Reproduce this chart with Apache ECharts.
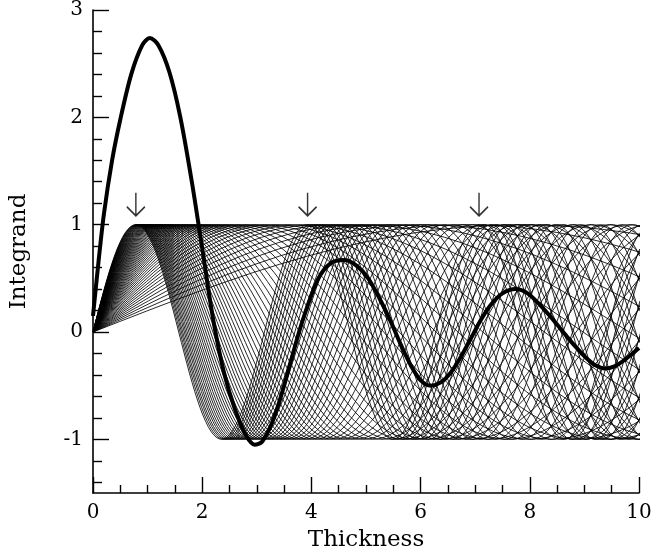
<!DOCTYPE html>
<html>
<head>
<meta charset="utf-8">
<script src="https://cdn.jsdelivr.net/npm/echarts@6/dist/echarts.min.js"></script>
<style>html,body{margin:0;padding:0;background:#fff;}#chart{width:665px;height:557px;}</style>
</head>
<body>
<div id="chart"></div>
<script>
// Peak positions (x at which each thin curve first reaches +1), read/estimated from the figure
const thinPeaks = [0.785, 0.797, 0.810, 0.822, 0.836, 0.849, 0.863, 0.878, 0.893, 0.908,
  0.924, 0.941, 0.958, 0.976, 0.994, 1.013, 1.033, 1.054, 1.076, 1.098,
  1.122, 1.147, 1.172, 1.199, 1.227, 1.257, 1.288, 1.320, 1.354, 1.390,
  1.428, 1.468, 1.510, 1.555, 1.603, 1.653, 1.707, 1.765, 1.827, 1.893,
  1.963, 2.040, 2.123, 2.212, 2.310, 2.417, 2.534, 2.662, 2.805, 2.964,
  3.142, 3.342, 3.570, 3.831, 4.134, 4.488, 4.909, 5.417, 6.042, 6.830, 7.854];
// Quarter-period waveform shape of the thin curves (rise from 0 to peak), 16 steps
const quarterWave = [0, 0.098, 0.195, 0.290, 0.383, 0.471, 0.556, 0.634, 0.707, 0.773,
  0.831, 0.882, 0.924, 0.957, 0.981, 0.995, 1];
// Thick curve
const thickX = [0, 0.1, 0.2, 0.35, 0.5, 0.7, 0.9, 1.04, 1.2, 1.4, 1.6, 1.81, 2.0, 2.2, 2.4, 2.6, 2.8, 2.96,
  3.1, 3.3, 3.5, 3.81, 4.12, 4.35, 4.6, 4.82, 5.04, 5.25, 5.46, 5.64, 5.82, 6.0, 6.19, 6.37, 6.55, 6.75, 6.92, 7.1, 7.28, 7.5,
  7.74, 7.96, 8.19, 8.45, 8.69, 8.88, 9.05, 9.2, 9.38, 9.55, 9.71, 9.86, 10];
const thickY = [0.15, 0.65, 1.1, 1.6, 1.98, 2.4, 2.67, 2.74, 2.67, 2.42, 2.0, 1.40, 0.78, 0.12, -0.38, -0.72, -0.96, -1.05,
  -1.02, -0.82, -0.5, 0.06, 0.49, 0.64, 0.67, 0.62, 0.50, 0.31, 0.09, -0.12, -0.31, -0.45, -0.5, -0.47, -0.38, -0.22, -0.06, 0.11, 0.25, 0.36,
  0.40, 0.36, 0.25, 0.1, -0.05, -0.16, -0.25, -0.31, -0.34, -0.32, -0.27, -0.21, -0.15];
// Arrow markers
const arrowX = [0.785, 3.93, 7.07];
const arrowY = [1.19, 1.19, 1.19];
// Tick values
const yMajorTicks = [-1, 0, 1, 2, 3];
const yMinorTicks = [-1.4, -1.2, -0.8, -0.6, -0.4, -0.2, 0.2, 0.4, 0.6, 0.8, 1.2, 1.4, 1.6, 1.8, 2.2, 2.4, 2.6, 2.8];

const N = quarterWave.length - 1;
function waveAt(m) {
  const quarter = Math.floor(m / N) % 4, r = m % N;
  if (quarter === 0) return quarterWave[r];
  if (quarter === 1) return quarterWave[N - r];
  if (quarter === 2) return -quarterWave[r];
  return -quarterWave[N - r];
}

const series = [];
thinPeaks.forEach(function (p) {
  const data = [];
  const step = p / N;
  for (let m = 0; ; m++) {
    const x = m * step;
    data.push([x, waveAt(m)]);
    if (x > 10) break;
  }
  series.push({
    type: 'line', data: data, showSymbol: false, silent: true, animation: false,
    lineStyle: { color: '#000', width: 0.85 }, clip: true, z: 2
  });
});
series.push({
  type: 'line', data: thickX.map(function (x, i) { return [x, thickY[i]]; }),
  showSymbol: false, smooth: 0.3, silent: true, animation: false,
  lineStyle: { color: '#000', width: 4 }, z: 5
});
series.push({
  type: 'scatter', data: arrowX.map(function (x, i) { return [x, arrowY[i]]; }),
  symbol: 'path://M10,0 L10,23 M2,14 L10,23 L18,14', symbolSize: [18, 23],
  itemStyle: { color: 'rgba(0,0,0,0)', borderColor: '#000', borderWidth: 1.6 },
  silent: true, animation: false, z: 6
});

const font = 'DejaVu Serif';
const chart = echarts.init(document.getElementById('chart'), null, { renderer: 'canvas' });
chart.setOption({
  backgroundColor: '#fff',
  animation: false,
  grid: { left: 91, right: 26, top: 6, bottom: 60, containLabel: false },
  xAxis: {
    type: 'value', min: 0, max: 10, interval: 2,
    name: 'Thickness', nameLocation: 'middle', nameGap: 36,
    nameTextStyle: { fontFamily: font, fontSize: 23, color: '#000' },
    axisLine: { show: true, onZero: false, lineStyle: { color: '#000', width: 1.6 } },
    axisTick: { show: true, inside: true, length: 16, lineStyle: { color: '#000', width: 1.4 } },
    minorTick: { show: true, splitNumber: 4, length: 8, lineStyle: { color: '#000', width: 1.4 } },
    splitLine: { show: false }, minorSplitLine: { show: false },
    axisLabel: { fontFamily: font, fontSize: 20, color: '#000', margin: 10 }
  },
  yAxis: [{
    type: 'value', min: -1.5, max: 3,
    name: 'Integrand', nameLocation: 'middle', nameGap: 62,
    nameTextStyle: { fontFamily: font, fontSize: 23, color: '#000' },
    axisLine: { show: true, onZero: false, lineStyle: { color: '#000', width: 1.6 } },
    axisTick: { show: true, inside: true, length: 16, customValues: yMajorTicks, lineStyle: { color: '#000', width: 1.4 } },
    splitLine: { show: false },
    axisLabel: { customValues: yMajorTicks, fontFamily: font, fontSize: 20, color: '#000', margin: 10 }
  }, {
    type: 'value', min: -1.5, max: 3, position: 'left',
    axisLine: { show: false },
    axisTick: { show: true, inside: true, length: 9, customValues: yMinorTicks, lineStyle: { color: '#000', width: 1.4 } },
    axisLabel: { show: false }, splitLine: { show: false }
  }],
  series: series
});
</script>
</body>
</html>
